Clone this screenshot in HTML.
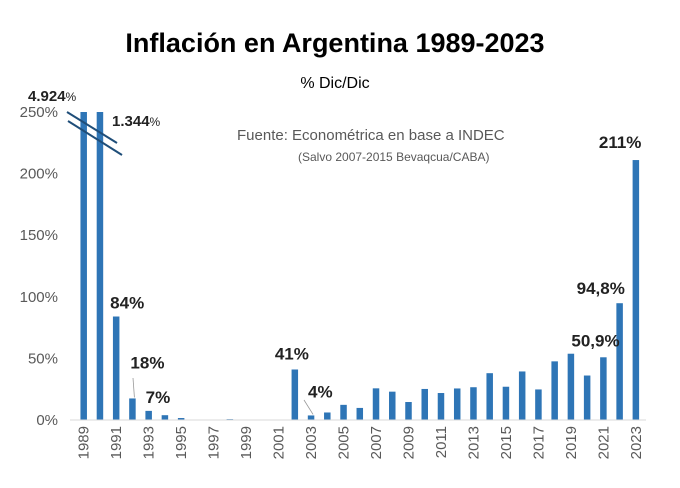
<!DOCTYPE html>
<html><head><meta charset="utf-8"><style>
body{margin:0;background:#fff;}
svg{display:block;font-family:"Liberation Sans",sans-serif;}
</style></head><body>
<svg id="chart" width="680" height="488" viewBox="0 0 680 488">
<text x="335" y="52" text-anchor="middle" font-size="27" font-weight="bold" fill="#000">Inflación en Argentina 1989-2023</text>
<text x="335" y="88" text-anchor="middle" font-size="16" fill="#000">% Dic/Dic</text>
<text x="237" y="140" font-size="15" fill="#595959">Fuente: Econométrica en base a INDEC</text>
<text x="298" y="161" font-size="12" fill="#595959">(Salvo 2007-2015 Bevaqcua/CABA)</text>
<g id="yaxis"></g><g id="bars"></g><g id="xaxis"></g><g id="labels"></g>
<line x1="67" y1="112" x2="117" y2="143" stroke="#1f4e79" stroke-width="2"/>
<line x1="68" y1="121" x2="122" y2="155" stroke="#1f4e79" stroke-width="2"/>
</svg>
<script>
const years=[1989,1990,1991,1992,1993,1994,1995,1996,1997,1998,1999,2000,2001,2002,2003,2004,2005,2006,2007,2008,2009,2010,2011,2012,2013,2014,2015,2016,2017,2018,2019,2020,2021,2022,2023];
const values=[4924,1344,84,17.5,7.4,3.9,1.6,0.1,0.3,0.7,0,0,0,41,3.7,6.1,12.3,9.8,25.7,23,14.6,25.2,21.9,25.6,26.6,38,27,39.4,24.8,47.6,53.8,36.1,50.9,94.8,211];
const yTicks=[0,50,100,150,200,250];
const annotYears=[1991,1992,1993,2002,2003,2021,2022,2023];
const annotText=["84%","18%","7%","41%","4%","50,9%","94,8%","211%"];
const NS="http://www.w3.org/2000/svg";
const Y0=420,PX=1.232,X0=83.7,STEP=16.24,BW=6.5,CAP=250;
const yS=v=>Y0-Math.min(v,CAP)*PX;
const xS=i=>X0+i*STEP;
function mk(t,a,p){const e=document.createElementNS(NS,t);for(const k in a)e.setAttribute(k,a[k]);p.appendChild(e);return e;}
const ya=document.getElementById('yaxis');
yTicks.forEach(t=>{const e=mk('text',{x:58,y:yS(t)+5,'text-anchor':'end','font-size':15,fill:'#595959'},ya);


e.textContent=t+'%';});
const bg=document.getElementById('bars');
values.forEach((v,i)=>{const h=Math.max(Y0-yS(v),0);
const r=mk('rect',{x:xS(i)-BW/2,y:Y0-h,width:BW,height:h,fill:'#2e75b6'},bg);

});
const xa=document.getElementById('xaxis');
const ax=mk('line',{x1:70,y1:Y0,x2:646,y2:Y0,stroke:'#d9d9d9','stroke-width':1},xa);


years.forEach((y,i)=>{if(i%2)return;const x=xS(i)+5;
const e=mk('text',{x:x,y:426,transform:`rotate(-90 ${x} 426)`,'text-anchor':'end','font-size':15,fill:'#595959'},xa);


e.textContent=y;});
const lg=document.getElementById('labels');
const off={1991:[-6,-8],1992:[-2,-30],1993:[-3,-8],2002:[-20,-10],2003:[-3,-18],2021:[-32,-11],2022:[-43,-9],2023:[-37,-12]};
annotYears.forEach((y,k)=>{const i=years.indexOf(y);const o=off[y];
const e=mk('text',{x:xS(i)+o[0],y:yS(values[i])+o[1],'font-size':17,'font-weight':'bold',fill:'#222'},lg);


e.textContent=annotText[k];});
[[0,"4.924",28,101],[1,"1.344",112,126]].forEach(a=>{const e=mk('text',{x:a[2],y:a[3],'font-size':15,'font-weight':'bold',fill:'#222'},lg);


e.innerHTML=a[1]+'<tspan font-size="12" font-weight="normal">%</tspan>';});
[[3,133,378],[14,304,400]].forEach(a=>{const l=mk('line',{x1:xS(a[0])+2,y1:yS(values[a[0]])-1,x2:a[1],y2:a[2],stroke:'#999','stroke-width':0.8},lg);

});
</script>
</body></html>
